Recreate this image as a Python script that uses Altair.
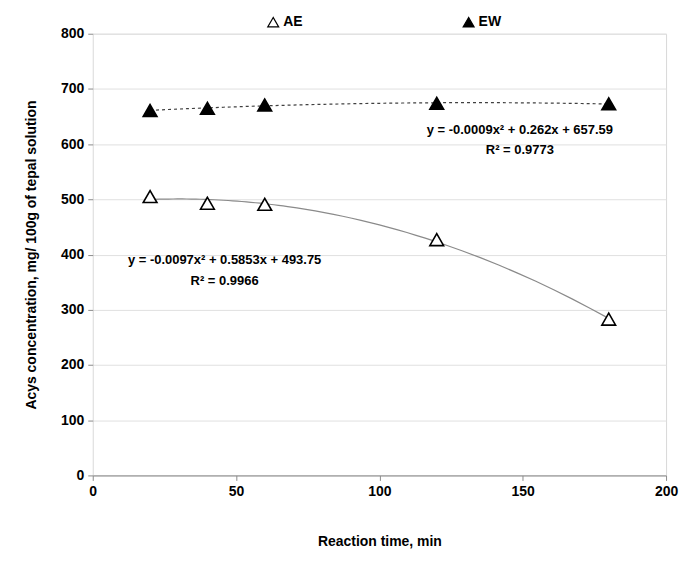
import altair as alt
import pandas as pd

times = [20, 40, 60, 120, 180]
ae_values = [505, 493, 491, 427, 283]
ew_values = [661, 665, 671, 674, 673]
series_names = ["AE", "EW"]
equations = ["y = -0.0097x² + 0.5853x + 493.75", "y = -0.0009x² + 0.262x + 657.59"]
r2_labels = ["R² = 0.9966", "R² = 0.9773"]

FONT = "Liberation Sans, sans-serif"

df = pd.DataFrame({
    "t": times * 2,
    "v": ae_values + ew_values,
    "s": [series_names[0]] * len(times) + [series_names[1]] * len(times),
})

xs = alt.X("t:Q", title="Reaction time, min",
           scale=alt.Scale(domain=[0, 200]),
           axis=alt.Axis(values=[0, 50, 100, 150, 200], grid=False, titlePadding=36,
                         labelFlush=False,
                         domainColor="#8c8c8c", tickColor="#8c8c8c", tickSize=5))
ys = alt.Y("v:Q", title="Acys concentration, mg/ 100g of tepal solution",
           scale=alt.Scale(domain=[0, 800]),
           axis=alt.Axis(values=list(range(0, 801, 100)), grid=True, gridColor="#e0e0e0",
                         domain=False, tickColor="#8c8c8c", tickSize=5, titlePadding=22))

base = alt.Chart(df)

ae_fit = base.transform_filter(alt.datum.s == "AE").transform_regression(
    "t", "v", method="poly", order=2, extent=[20, 180]
).mark_line(color="#8a8a8a", strokeWidth=1.2).encode(x="t:Q", y="v:Q")

ew_fit = base.transform_filter(alt.datum.s == "EW").transform_regression(
    "t", "v", method="poly", order=2, extent=[20, 180]
).mark_line(color="#404040", strokeWidth=1.2, strokeDash=[3, 3]).encode(x="t:Q", y="v:Q")

points = base.mark_point(shape="triangle-up", filled=True, size=190,
                         stroke="black", strokeWidth=1.6, opacity=1).encode(
    x=xs, y=ys,
    fill=alt.Fill("s:N", scale=alt.Scale(domain=series_names, range=["white", "black"]),
                  legend=alt.Legend(title=None, orient="none", direction="horizontal",
                                    legendX=174, legendY=-19, columnPadding=158,
                                    symbolType="triangle-up", symbolSize=120,
                                    symbolStrokeColor="black", symbolStrokeWidth=1.2,
                                    labelFontSize=14, labelFontWeight="bold",
                                    labelFont=FONT, labelOffset=3)),
)

ann = pd.DataFrame({
    "t": [46, 46, 149, 149],
    "v": [390, 353, 625, 589],
    "label": [equations[0], r2_labels[0], equations[1], r2_labels[1]],
})
texts = alt.Chart(ann).mark_text(font=FONT, fontSize=13, fontWeight="bold", color="black").encode(
    x="t:Q", y="v:Q", text="label:N")

chart = alt.layer(ew_fit, ae_fit, points, texts).properties(
    width=575, height=443,
    padding={"left": 16, "top": 6, "right": 5, "bottom": 0}
).configure_view(stroke="#d9d9d9").configure_axis(
    labelFont=FONT, titleFont=FONT, labelFontSize=14, titleFontSize=14,
    labelFontWeight="bold", titleFontWeight="bold", labelColor="black", titleColor="black",
    labelPadding=4
)

chart.save("out.html", embed_options={"renderer": "svg", "actions": False})
